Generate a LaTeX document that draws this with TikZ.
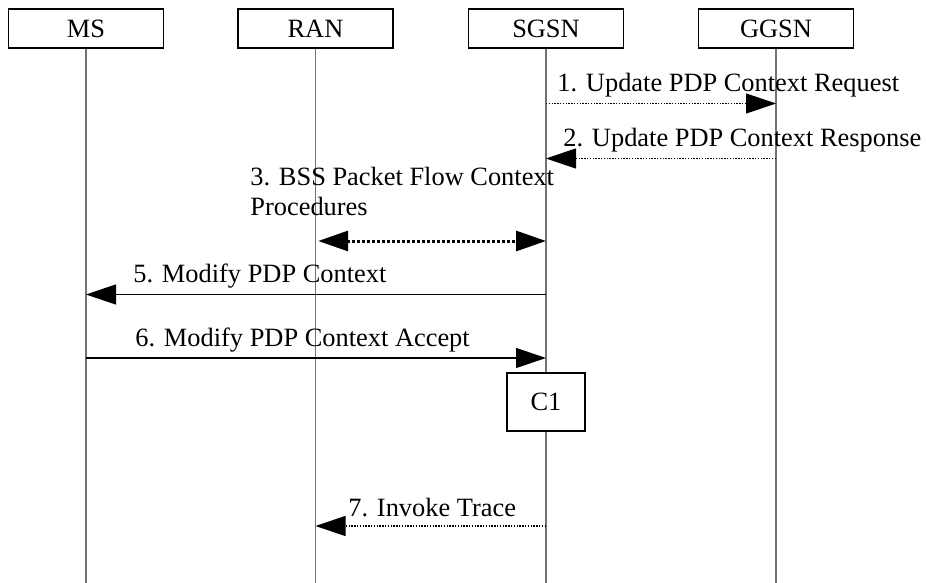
\documentclass[tikz,border=0pt]{standalone}
\usepackage{fontspec}
\setmainfont{Liberation Serif}
\usetikzlibrary{arrows.meta}
\begin{document}
\begin{tikzpicture}[x=0.5pt,y=-0.5pt,
  every node/.style={font=\fontsize{13.2}{15.8}\selectfont},
  hdr/.style={draw=black, line width=0.75pt, minimum width=77.5pt, minimum height=19.5pt, inner sep=0pt},
  lifeline/.style={draw=black!55, line width=0.6pt},
  msgsolid/.style={draw=black, line width=0.6pt, -{Triangle[length=15pt,width=10pt]}},
  msgdot/.style={draw=black, line width=0.6pt, dash pattern=on 0.7pt off 0.7pt, -{Triangle[length=15pt,width=10pt]}},
  msgthick/.style={draw=black, line width=1.5pt, dash pattern=on 1.5pt off 1pt, {Triangle[length=15pt,width=10pt,sep]}-{Triangle[length=15pt,width=10pt]}},
  lbl/.style={anchor=base west, inner sep=0pt}
]
\useasboundingbox (0,0) rectangle (926,583);
% headers
\node[hdr] (ms) at (86,28.5) {MS};
\node[hdr] (ran) at (315.5,28.5) {RAN};
\node[hdr] (sgsn) at (546,28.5) {SGSN};
\node[hdr] (ggsn) at (776,28.5) {GGSN};
% lifeline ends
\coordinate (msE) at (86,583);
\coordinate (ranE) at (315.5,583);
\coordinate (sgsnE) at (546,583);
\coordinate (ggsnE) at (776,583);
\draw[lifeline] (ms.south) -- (msE);
\draw[lifeline] (ran.south) -- (ranE);
\draw[lifeline] (sgsn.south) -- (sgsnE);
\draw[lifeline] (ggsn.south) -- (ggsnE);
% message points
\coordinate (s1) at (546,103.5); \coordinate (g1) at (776,103.5);
\coordinate (g2) at (776,158.5); \coordinate (s2) at (546,158.5);
\coordinate (r3) at (315.5,241); \coordinate (s3) at (546,241);
\coordinate (s5) at (546,294.5); \coordinate (m5) at (86,294.5);
\coordinate (m6) at (86,358); \coordinate (s6) at (546,358);
\coordinate (s7) at (546,526); \coordinate (r7) at (315.5,526);
% C1 box (on top of SGSN lifeline)
\node[draw=black, line width=0.75pt, fill=white, minimum width=39pt, minimum height=29pt, inner sep=0pt] (c1) at (546,402) {C1};
% messages
\draw[msgdot] (s1) -- (g1);
\node[lbl] (t1) at (557,92) {1. Update PDP Context Request};
\draw[msgdot] (g2) -- (s2);
\node[lbl] (t2) at (563,147) {2. Update PDP Context Response};
\draw[msgthick] (r3) -- (s3);
\node[lbl] (t3a) at (250,185) {3. BSS Packet Flow Context};
\node[lbl] (t3b) at (250,215) {Procedures};
\draw[msgsolid] (s5) -- (m5);
\node[lbl] (t5) at (133,282) {5. Modify PDP Context};
\draw[msgsolid] (m6) -- (s6);
\node[lbl] (t6) at (135,346) {6. Modify PDP Context Accept};
\draw[msgdot] (s7) -- (r7);
\node[lbl] (t7) at (348,516) {7. Invoke Trace};
\end{tikzpicture}
\end{document}
